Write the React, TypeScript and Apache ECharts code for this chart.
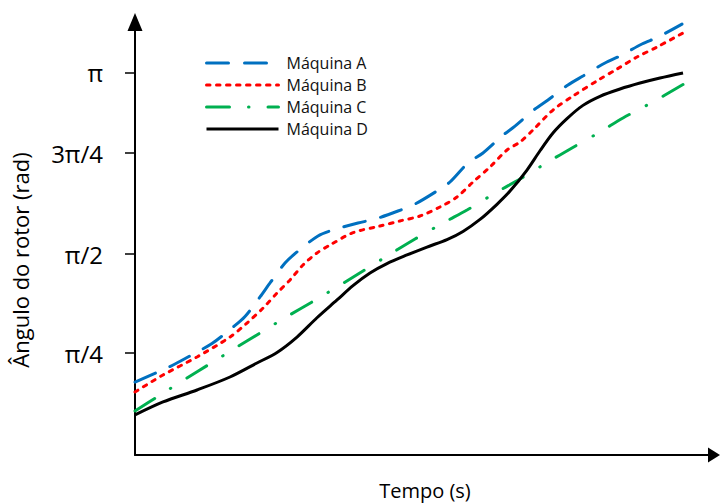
import React, { useEffect, useRef } from "react";
import * as echarts from "echarts";

const seriesNames = ["Máquina A", "Máquina B", "Máquina C", "Máquina D"];
const seriesColors = ["#0070C0", "#FF0000", "#00B050", "#000000"];

// [tempo, ângulo (rad)]
const machineA: [number, number][] = [
  [0, 0.555], [0.397, 0.635], [0.691, 0.698], [1.071, 0.793], [1.33, 0.86],
  [1.675, 0.984], [1.9, 1.075], [2.159, 1.23], [2.332, 1.341], [2.591, 1.499],
  [2.798, 1.587], [3.161, 1.714], [3.42, 1.761], [3.851, 1.817], [4.145, 1.848],
  [4.542, 1.912], [4.836, 1.967], [5.216, 2.071], [5.44, 2.142], [5.751, 2.293],
  [6.01, 2.372], [6.339, 2.507], [6.563, 2.586], [6.908, 2.721], [7.133, 2.793],
  [7.478, 2.912], [7.737, 2.983], [8.117, 3.086], [8.377, 3.142], [8.756, 3.237],
  [9.033, 3.292], [9.447, 3.395],
];
const machineB: [number, number][] = [
  [0, 0.476], [0.484, 0.611], [1.071, 0.754], [1.641, 0.912], [1.934, 1.023],
  [2.211, 1.142], [2.453, 1.261], [2.677, 1.365], [2.902, 1.484], [3.143, 1.579],
  [3.368, 1.642], [3.765, 1.74], [4.231, 1.793], [4.577, 1.833], [4.922, 1.872],
  [5.268, 1.944], [5.561, 2.023], [5.838, 2.142], [6.131, 2.261], [6.425, 2.396],
  [6.649, 2.459], [6.874, 2.555], [7.219, 2.713], [7.565, 2.824], [8.031, 2.959],
  [8.325, 3.038], [8.67, 3.134], [9.016, 3.213], [9.465, 3.324],
];
const machineC: [number, number][] = [
  [0, 0.325], [0.38, 0.436], [0.898, 0.587], [1.261, 0.69], [1.762, 0.833],
  [2.159, 0.944], [2.642, 1.079], [3.057, 1.19], [3.575, 1.333], [3.938, 1.436],
  [4.439, 1.579], [4.836, 1.69], [5.354, 1.825], [5.734, 1.92], [6.252, 2.063],
  [6.649, 2.166], [7.133, 2.301], [7.547, 2.412], [8.031, 2.539], [8.428, 2.65],
  [8.946, 2.777], [9.361, 2.888], [9.603, 2.951],
];
const machineD: [number, number][] = [
  [0, 0.294], [0.484, 0.397], [1.071, 0.492], [1.641, 0.595], [2.107, 0.706],
  [2.453, 0.79], [2.798, 0.912], [3.143, 1.065], [3.489, 1.206], [3.765, 1.32],
  [4.059, 1.42], [4.352, 1.495], [4.698, 1.563], [5.043, 1.626], [5.389, 1.685],
  [5.665, 1.75], [5.959, 1.845], [6.252, 1.965], [6.477, 2.07], [6.77, 2.237],
  [6.995, 2.39], [7.219, 2.531], [7.461, 2.645], [7.737, 2.75], [8.031, 2.822],
  [8.377, 2.88], [8.722, 2.927], [9.067, 2.967], [9.465, 3.007],
];

const yTickValues = [0.7854, 1.5708, 2.372, 3.007];
const yTickLabels = ["π/4", "π/2", "3π/4", "π"];
const xAxisTitle = "Tempo (s)";
const yAxisTitle = "Ângulo do rotor (rad)";

const FONT = "'Open Sans', 'Noto Sans', sans-serif";

export default function App() {
  const ref = useRef<HTMLDivElement>(null);
  useEffect(() => {
    const chart = echarts.init(ref.current!, null, { renderer: "svg" });
    const dashes: any[] = [
      [22, 16],
      [3.5, 6.5],
      [23, 19, 0.5, 19],
      "solid",
    ];
    const datasets = [machineA, machineB, machineC, machineD];
    chart.setOption({
      animation: false,
      grid: { left: 135, right: 6, top: 22, bottom: 49, containLabel: false },
      legend: {
        orient: "vertical",
        left: 200,
        top: 50,
        itemWidth: 72,
        itemHeight: 14,
        itemGap: 6,
        itemStyle: { opacity: 0 },
        lineStyle: { width: 3 },
        textStyle: { fontFamily: FONT, fontSize: 16, color: "#111", padding: [0, 0, 0, 3] },
        data: seriesNames,
      },
      xAxis: {
        type: "value",
        min: 0,
        max: 10,
        axisLine: {
          onZero: false,
          lineStyle: { color: "#000", width: 2 },
          symbol: ["none", "triangle"],
          symbolSize: [15, 12],
        },
        axisTick: { show: false },
        axisLabel: { show: false },
        splitLine: { show: false },
      },
      yAxis: {
        type: "value",
        min: -0.0238,
        max: 3.4114,
        axisLine: {
          show: true,
          onZero: false,
          lineStyle: { color: "#000", width: 2 },
          symbol: ["none", "triangle"],
          symbolSize: [15, 18],
        },
        axisTick: {
          show: true,
          length: 10,
          customValues: yTickValues,
          lineStyle: { color: "#000", width: 1.5 },
        },
        axisLabel: {
          customValues: yTickValues,
          margin: 32,
          fontFamily: FONT,
          fontSize: 24,
          color: "#000",
          formatter: (v: number) => {
            let best = 0;
            yTickValues.forEach((t, i) => {
              if (Math.abs(t - v) < Math.abs(yTickValues[best] - v)) best = i;
            });
            return yTickLabels[best];
          },
        },
        splitLine: { show: false },
      },
      graphic: [
        {
          type: "text",
          x: 425,
          y: 490,
          style: {
            text: xAxisTitle,
            font: `20px ${FONT}`,
            fill: "#000",
            align: "center",
            verticalAlign: "middle",
          },
        },
        {
          type: "text",
          x: 20,
          y: 260,
          rotation: Math.PI / 2,
          style: {
            text: yAxisTitle,
            font: `22px ${FONT}`,
            fill: "#000",
            align: "center",
            verticalAlign: "middle",
          },
        },
      ],
      series: datasets.map((d, i) => ({
        name: seriesNames[i],
        type: "line",
        data: d,
        symbol: "none",
        smooth: 0.3,
        lineStyle: {
          color: seriesColors[i],
          width: 3,
          type: dashes[i],
          cap: i === 3 ? "butt" : "round",
        },
        itemStyle: { color: seriesColors[i] },
      })),
    });
    return () => chart.dispose();
  }, []);
  return (
    <div
      ref={ref}
      style={{ position: "absolute", left: 0, top: 0, width: 720, height: 504 }}
    />
  );
}
